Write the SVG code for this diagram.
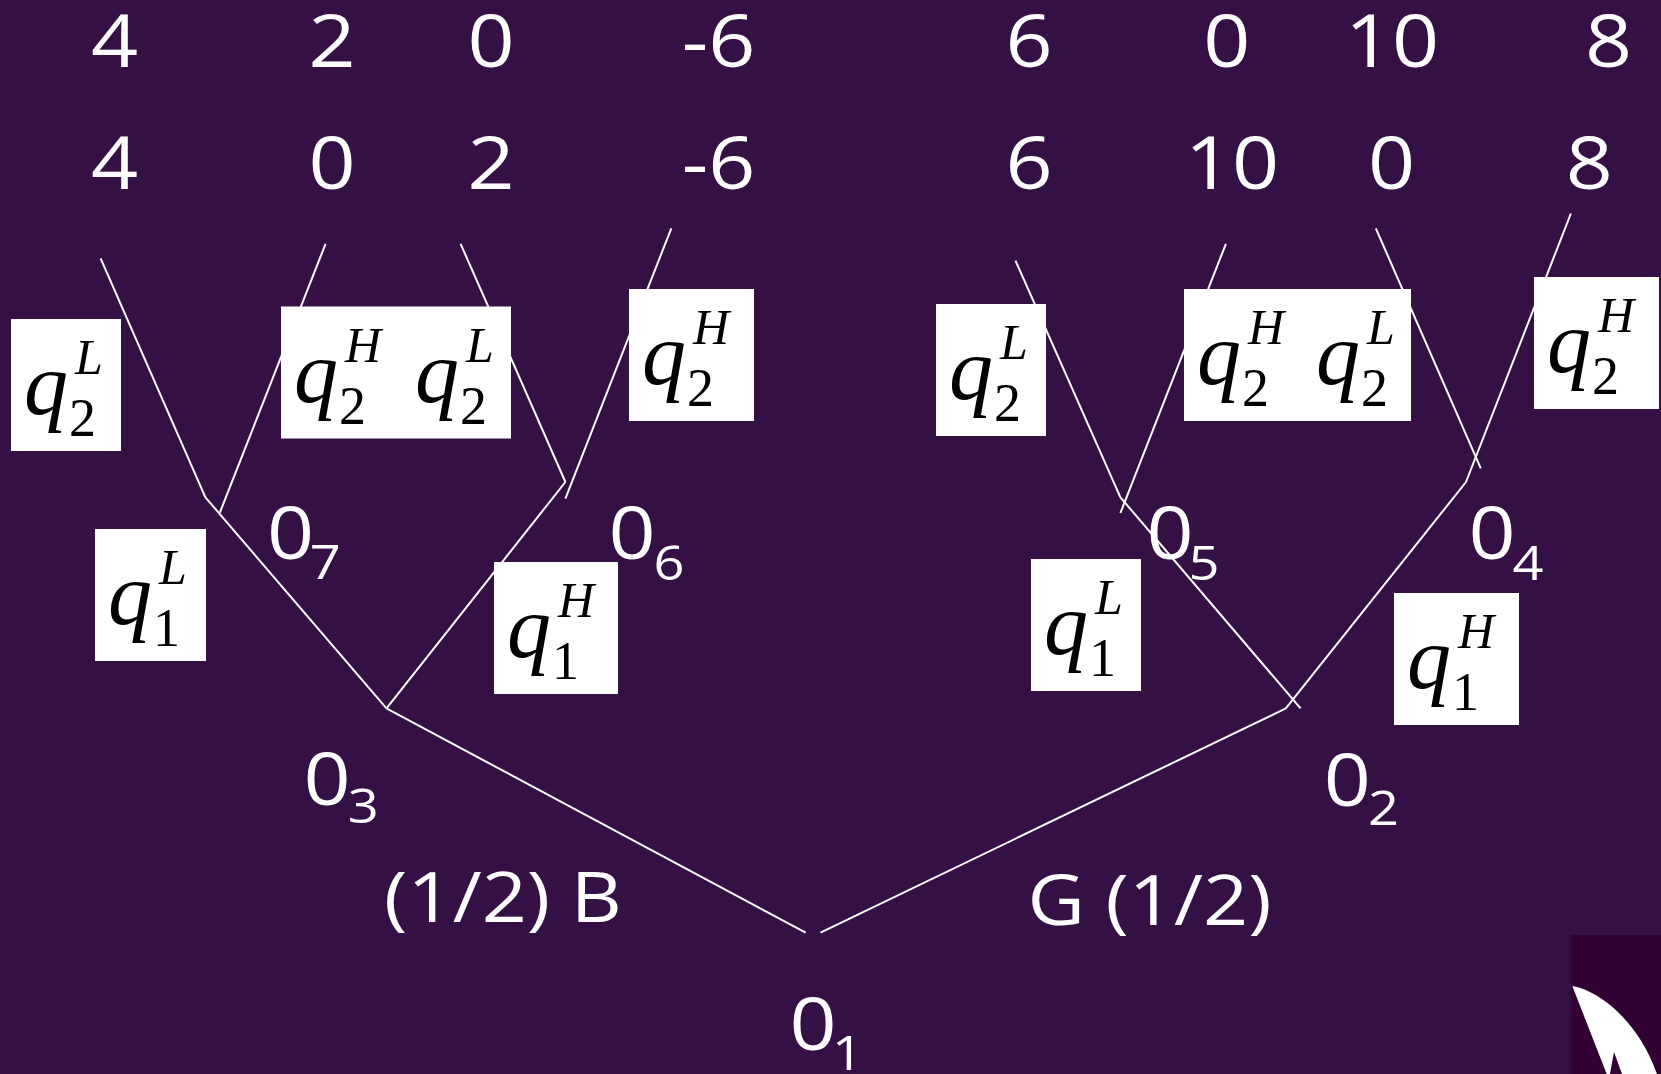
<svg xmlns="http://www.w3.org/2000/svg" width="1661" height="1074" viewBox="0 0 1661 1074">
<style>
.s{font-family:"Open Sans","Noto Sans",sans-serif;fill:#fff;text-anchor:middle}
.n{font-size:73px}
.c{font-size:70px}
.sub{font-size:48px}
.bx{fill:#fff}
.q{font-family:"Liberation Serif","Times New Roman",serif;font-style:italic;font-size:88px;fill:#000}
.qs{font-family:"Liberation Serif","Times New Roman",serif;font-size:54px;fill:#000}
.qp{font-family:"Liberation Serif","Times New Roman",serif;font-style:italic;font-size:50px;fill:#000}
.e{stroke:#fff;stroke-width:2;fill:none}
</style>
<defs>
<g id="qL2"><text class="q" x="13" y="95">q</text><text class="qs" x="58" y="117">2</text><text class="qp" x="64" y="55">L</text></g>
<g id="qH2"><text class="q" x="13" y="95">q</text><text class="qs" x="58" y="117">2</text><text class="qp" x="64" y="55">H</text></g>
<g id="qL1"><text class="q" x="13" y="95">q</text><text class="qs" x="58" y="117">1</text><text class="qp" x="64" y="55">L</text></g>
<g id="qH1"><text class="q" x="13" y="95">q</text><text class="qs" x="58" y="117">1</text><text class="qp" x="64" y="55">H</text></g>
</defs>
<rect width="1661" height="1074" fill="#351045"/>
<g id="connectors" class="e">
<line x1="100.6" y1="258.3" x2="205.4" y2="497.3"/>
<line x1="205.4" y1="497.3" x2="386.5" y2="708.4"/>
<line x1="325.6" y1="243.8" x2="219.7" y2="513"/>
<line x1="460.6" y1="243.8" x2="565.4" y2="482"/>
<line x1="565.4" y1="482" x2="386.5" y2="708.4"/>
<line x1="671.3" y1="228.3" x2="565.4" y2="498.6"/>
<line x1="386.5" y1="708.4" x2="805.7" y2="932.7"/>
<line x1="820.5" y1="932.7" x2="1285.8" y2="708.4"/>
<line x1="1285.8" y1="708.4" x2="1466" y2="482"/>
<line x1="1466" y1="482" x2="1570.9" y2="213.5"/>
<line x1="1375.8" y1="228.3" x2="1480.8" y2="468.3"/>
<line x1="1015.5" y1="260.7" x2="1120.4" y2="497.3"/>
<line x1="1120.4" y1="497.3" x2="1300.6" y2="708.4"/>
<line x1="1225.9" y1="243.8" x2="1120.4" y2="513"/>
</g>
<g id="payoffs" class="s n" transform="scale(1.13 1)">
<g id="leaf1"><text x="101.5" y="67">4</text><text x="101.5" y="189.5">4</text></g>
<g id="leaf2"><text x="293.8" y="67">2</text><text x="293.8" y="189.5">0</text></g>
<g id="leaf3"><text x="434.5" y="67">0</text><text x="434.5" y="189.5">2</text></g>
<g id="leaf4"><text x="636" y="67">-6</text><text x="636" y="189.5">-6</text></g>
<g id="leaf5"><text x="910.6" y="67">6</text><text x="910.6" y="189.5">6</text></g>
<g id="leaf6"><text x="1085.8" y="67">0</text><text x="1090.3" y="189.5">10</text></g>
<g id="leaf7"><text x="1231.9" y="67">10</text><text x="1231.4" y="189.5">0</text></g>
<g id="leaf8"><text x="1423.5" y="67">8</text><text x="1406.6" y="189.5">8</text></g>
</g>
<g id="nodes" class="s" transform="scale(1.13 1)">
<g id="O7"><text class="n" x="257.1" y="559">0</text><text class="sub" x="287.9" y="579">7</text></g>
<g id="O6"><text class="n" x="559.3" y="559.5">0</text><text class="sub" x="592" y="580">6</text></g>
<g id="O5"><text class="n" x="1035.4" y="559.5">0</text><text class="sub" x="1065.5" y="580">5</text></g>
<g id="O4"><text class="n" x="1320.4" y="559.5">0</text><text class="sub" x="1352.2" y="580">4</text></g>
<g id="O3"><text class="n" x="289.4" y="805">0</text><text class="sub" x="321.5" y="823">3</text></g>
<g id="O2"><text class="n" x="1192.4" y="805.8">0</text><text class="sub" x="1224.3" y="825.5">2</text></g>
<g id="O1"><text class="n" x="719.5" y="1050">0</text><text class="sub" x="750" y="1070">1</text></g>
<g id="chanceB"><text class="c" x="445.1" y="922">(1/2) B</text></g>
<g id="chanceG"><text class="c" x="1017.3" y="925">G (1/2)</text></g>
</g>
<g id="box1" transform="translate(11 319)"><rect class="bx" width="110" height="132"/><use href="#qL2"/></g>
<g id="box2" transform="translate(281 306.5)"><rect class="bx" width="230" height="132"/><use href="#qH2"/><use href="#qL2" x="121"/></g>
<g id="box3" transform="translate(629 289)"><rect class="bx" width="125" height="132"/><use href="#qH2"/></g>
<g id="box4" transform="translate(95 529)"><rect class="bx" width="111" height="132"/><use href="#qL1"/></g>
<g id="box5" transform="translate(494 562)"><rect class="bx" width="124" height="132"/><use href="#qH1"/></g>
<g id="box6" transform="translate(936 304)"><rect class="bx" width="110" height="132"/><use href="#qL2"/></g>
<g id="box7" transform="translate(1184 289)"><rect class="bx" width="227" height="132"/><use href="#qH2"/><use href="#qL2" x="119"/></g>
<g id="box8" transform="translate(1534 277)"><rect class="bx" width="125" height="132"/><use href="#qH2"/></g>
<g id="box9" transform="translate(1031 559)"><rect class="bx" width="110" height="132"/><use href="#qL1"/></g>
<g id="box10" transform="translate(1394 593)"><rect class="bx" width="125" height="132"/><use href="#qH1"/></g>
<g id="logo">
<rect x="1571" y="935" width="90" height="139" fill="#330033"/>
<path d="M1572.3,986 C1598,990 1638,1020 1657,1074 L1622,1074 L1614,1052 L1610,1074 L1606.7,1074 Z" fill="#fff"/>
</g>
</svg>
